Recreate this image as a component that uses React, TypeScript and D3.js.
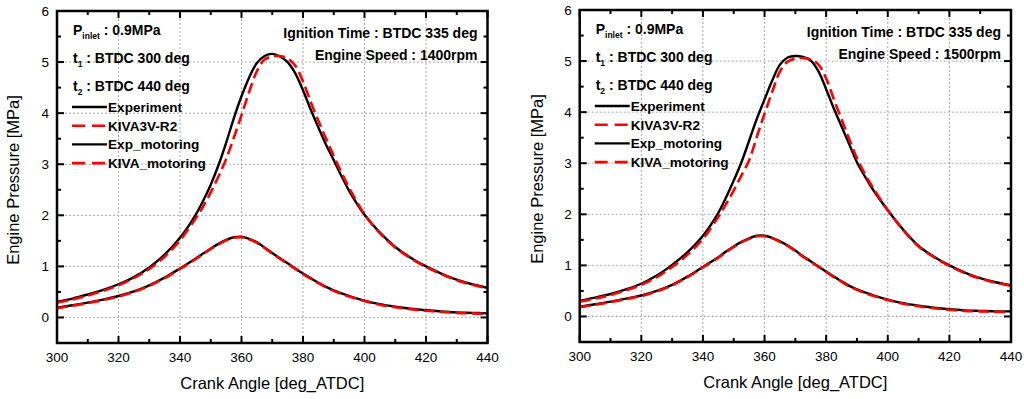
import React from "react";
import * as d3 from "d3";

// ---------- DATA ----------
const crankAngles = [300, 305, 310, 315, 320, 325, 330, 335, 340, 345, 347.5, 350, 352.5, 355, 357.5, 360, 362.5, 365, 367.5, 370, 372.5, 375, 377.5, 380, 382.5, 385, 387.5, 390, 392.5, 395, 400, 405, 410, 415, 420, 425, 430, 435, 440];

const exp1400 = [0.31, 0.37, 0.45, 0.54, 0.65, 0.79, 0.98, 1.23, 1.56, 2.0, 2.28, 2.6, 2.98, 3.42, 3.9, 4.33, 4.7, 4.98, 5.12, 5.16, 5.11, 5.0, 4.78, 4.45, 4.07, 3.72, 3.38, 3.08, 2.77, 2.48, 2.01, 1.66, 1.38, 1.17, 1.0, 0.86, 0.74, 0.65, 0.58];
const kiva1400 = [0.29, 0.35, 0.43, 0.52, 0.63, 0.77, 0.95, 1.19, 1.51, 1.93, 2.17, 2.45, 2.76, 3.1, 3.52, 3.96, 4.42, 4.82, 5.05, 5.11, 5.12, 5.07, 4.93, 4.62, 4.22, 3.85, 3.5, 3.16, 2.84, 2.54, 2.02, 1.65, 1.37, 1.16, 0.99, 0.85, 0.73, 0.64, 0.57];
const expMot1400 = [0.19, 0.24, 0.29, 0.35, 0.42, 0.51, 0.63, 0.78, 0.96, 1.15, 1.25, 1.35, 1.44, 1.52, 1.57, 1.58, 1.54, 1.47, 1.37, 1.26, 1.16, 1.06, 0.96, 0.86, 0.77, 0.68, 0.6, 0.53, 0.47, 0.42, 0.33, 0.26, 0.21, 0.17, 0.14, 0.12, 0.1, 0.09, 0.08];
const kivaMot1400 = [0.18, 0.23, 0.28, 0.34, 0.41, 0.5, 0.62, 0.77, 0.95, 1.14, 1.24, 1.34, 1.43, 1.51, 1.56, 1.57, 1.53, 1.46, 1.36, 1.25, 1.15, 1.05, 0.95, 0.85, 0.76, 0.67, 0.59, 0.52, 0.46, 0.41, 0.32, 0.25, 0.2, 0.16, 0.13, 0.11, 0.09, 0.08, 0.07];

const exp1500 = [0.31, 0.37, 0.44, 0.53, 0.64, 0.8, 1.01, 1.26, 1.58, 2.03, 2.33, 2.66, 3.02, 3.44, 3.87, 4.25, 4.62, 4.93, 5.07, 5.1, 5.08, 5.01, 4.8, 4.45, 4.07, 3.72, 3.37, 3.02, 2.75, 2.5, 2.08, 1.7, 1.38, 1.17, 1.0, 0.86, 0.75, 0.67, 0.61];
const kiva1500 = [0.29, 0.35, 0.42, 0.51, 0.62, 0.77, 0.97, 1.21, 1.52, 1.95, 2.2, 2.47, 2.76, 3.06, 3.52, 3.97, 4.4, 4.8, 4.99, 5.05, 5.06, 5.03, 4.93, 4.66, 4.25, 3.86, 3.47, 3.1, 2.8, 2.54, 2.08, 1.69, 1.37, 1.16, 0.99, 0.85, 0.74, 0.66, 0.6];
const expMot1500 = [0.19, 0.24, 0.29, 0.35, 0.41, 0.5, 0.62, 0.78, 0.97, 1.16, 1.27, 1.37, 1.46, 1.53, 1.58, 1.58, 1.54, 1.47, 1.39, 1.29, 1.18, 1.08, 0.98, 0.88, 0.78, 0.69, 0.6, 0.53, 0.47, 0.42, 0.33, 0.26, 0.21, 0.17, 0.14, 0.12, 0.11, 0.1, 0.1];
const kivaMot1500 = [0.18, 0.23, 0.28, 0.34, 0.4, 0.49, 0.61, 0.77, 0.96, 1.15, 1.26, 1.36, 1.45, 1.52, 1.57, 1.57, 1.53, 1.46, 1.38, 1.28, 1.17, 1.07, 0.97, 0.87, 0.77, 0.68, 0.59, 0.52, 0.46, 0.41, 0.32, 0.25, 0.2, 0.16, 0.13, 0.11, 0.1, 0.09, 0.09];

const xTicks = [300, 320, 340, 360, 380, 400, 420, 440];
const xMinorTicks = [310, 330, 350, 370, 390, 410, 430];
const yTicks = [0, 1, 2, 3, 4, 5, 6];
const yMinorTicks = [-0.5, 0.5, 1.5, 2.5, 3.5, 4.5, 5.5];
const gridX = [320, 340, 360, 380, 400, 420];
const gridY = [0, 1, 2, 3, 4, 5];

const legendNames = ["Experiment", "KIVA3V-R2", "Exp_motoring", "KIVA_motoring"];
const engineSpeeds = ["1400rpm", "1500rpm"];

const FONT = "'Liberation Sans', Arial, Helvetica, sans-serif";

interface PanelProps {
  x0: number; x1: number; y0: number; y1: number;
  series: number[][];
  speed: string;
  titleX: number;
}

function Panel({ x0, x1, y0, y1, series, speed, titleX }: PanelProps) {
  const xs = d3.scaleLinear().domain([300, 440]).range([x0, x1]);
  const ys = d3.scaleLinear().domain([-0.5, 6]).range([y1, y0]);
  const line = (vals: number[]) =>
    d3.line<number>().x((_, i) => xs(crankAngles[i])).y((v) => ys(v)).curve(d3.curveCatmullRom.alpha(0.5))(vals) || "";
  const styles = [
    { stroke: "#000", width: 2.4, dash: "" },
    { stroke: "#ff0000", width: 2.6, dash: "11,5" },
    { stroke: "#000", width: 2.4, dash: "" },
    { stroke: "#ff0000", width: 2.6, dash: "11,5" },
  ];
  const clipId = `clip${Math.round(x0)}`;
  return (
    <g>
      <defs>
        <clipPath id={clipId}>
          <rect x={x0} y={y0} width={x1 - x0} height={y1 - y0} />
        </clipPath>
      </defs>
      {gridX.map((t) => (
        <line key={"gx" + t} x1={xs(t)} x2={xs(t)} y1={y0} y2={y1} stroke="#a8a8a8" strokeWidth={1} strokeDasharray="2,2" />
      ))}
      {gridY.map((t) => (
        <line key={"gy" + t} x1={x0} x2={x1} y1={ys(t)} y2={ys(t)} stroke="#a8a8a8" strokeWidth={1} strokeDasharray="2,2" />
      ))}
      <g clipPath={`url(#${clipId})`}>
        {series.map((vals, i) => (
          <path key={"s" + i} d={line(vals)} fill="none" stroke={styles[i].stroke} strokeWidth={styles[i].width}
            strokeDasharray={styles[i].dash || undefined} />
        ))}
      </g>
      {xTicks.map((t) => (
        <g key={"xt" + t}>
          <line x1={xs(t)} x2={xs(t)} y1={y1} y2={y1 - 7} stroke="#000" strokeWidth={2} />
          <line x1={xs(t)} x2={xs(t)} y1={y0} y2={y0 + 7} stroke="#000" strokeWidth={2} />
        </g>
      ))}
      {xMinorTicks.map((t) => (
        <g key={"xm" + t}>
          <line x1={xs(t)} x2={xs(t)} y1={y1} y2={y1 - 4} stroke="#000" strokeWidth={2} />
          <line x1={xs(t)} x2={xs(t)} y1={y0} y2={y0 + 4} stroke="#000" strokeWidth={2} />
        </g>
      ))}
      {yTicks.map((t) => (
        <g key={"yt" + t}>
          <line x1={x0} x2={x0 + 7} y1={ys(t)} y2={ys(t)} stroke="#000" strokeWidth={2} />
          <line x1={x1} x2={x1 - 7} y1={ys(t)} y2={ys(t)} stroke="#000" strokeWidth={2} />
        </g>
      ))}
      {yMinorTicks.map((t) => (
        <g key={"ym" + t}>
          <line x1={x0} x2={x0 + 4} y1={ys(t)} y2={ys(t)} stroke="#000" strokeWidth={2} />
          <line x1={x1} x2={x1 - 4} y1={ys(t)} y2={ys(t)} stroke="#000" strokeWidth={2} />
        </g>
      ))}
      <rect x={x0} y={y0} width={x1 - x0} height={y1 - y0} fill="none" stroke="#000" strokeWidth={2.5} />
      {xTicks.map((t) => (
        <text key={"xl" + t} x={xs(t)} y={y1 + 19} textAnchor="middle" fontSize={13.5} fontFamily={FONT} fill="#000">{t}</text>
      ))}
      {yTicks.map((t) => (
        <text key={"yl" + t} x={x0 - 8} y={ys(t) + 5} textAnchor="end" fontSize={13.5} fontFamily={FONT} fill="#000">{t}</text>
      ))}
      <text x={(x0 + x1) / 2} y={y1 + 46} textAnchor="middle" fontSize={16.5} fontFamily={FONT} fill="#000">Crank Angle [deg_ATDC]</text>
      <text transform={`translate(${titleX},${(y0 + y1) / 2 + 3}) rotate(-90)`} textAnchor="middle" fontSize={16.5} fontFamily={FONT} fill="#000">Engine Pressure [MPa]</text>
      <g fontFamily={FONT} fontWeight="bold" fontSize={14} fill="#000">
        <text x={x0 + 16} y={y0 + 24}>P<tspan fontSize={8.5} dy={4}>inlet</tspan><tspan dy={-4}> : 0.9MPa</tspan></text>
        <text x={x0 + 16} y={y0 + 52}>t<tspan fontSize={8.5} dy={4}>1</tspan><tspan dy={-4}> : BTDC 300 deg</tspan></text>
        <text x={x0 + 16} y={y0 + 80}>t<tspan fontSize={8.5} dy={4}>2</tspan><tspan dy={-4}> : BTDC 440 deg</tspan></text>
        <text x={x1 - 10} y={y0 + 27} textAnchor="end">Ignition Time : BTDC 335 deg</text>
        <text x={x1 - 10} y={y0 + 49} textAnchor="end">Engine Speed : {speed}</text>
        {legendNames.map((n, i) => {
          const cy = y0 + 96 + i * 18.7;
          return (
            <g key={n}>
              <line x1={x0 + 15} x2={x0 + 50} y1={cy} y2={cy} stroke={styles[i].stroke} strokeWidth={styles[i].width}
                strokeDasharray={i % 2 === 1 ? "13,7" : undefined} />
              <text x={x0 + 51} y={cy + 5} fontSize={13.6}>{n}</text>
            </g>
          );
        })}
      </g>
    </g>
  );
}

export default function App() {
  return (
    <svg width={1024} height={399} style={{ position: "absolute", left: 0, top: 0, background: "#fff" }}>
      <rect x={0} y={0} width={1024} height={399} fill="#fff" />
      <Panel x0={57} x1={487.5} y0={11} y1={343} series={[exp1400, kiva1400, expMot1400, kivaMot1400]} speed={engineSpeeds[0]} titleX={19} />
      <Panel x0={579.7} x1={1011} y0={10} y1={342} series={[exp1500, kiva1500, expMot1500, kivaMot1500]} speed={engineSpeeds[1]} titleX={543} />
    </svg>
  );
}
